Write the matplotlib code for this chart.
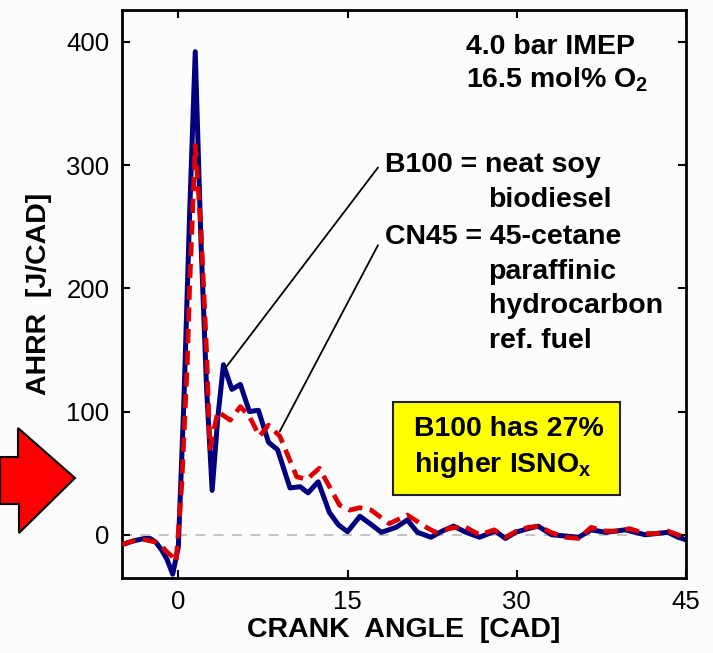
import matplotlib
matplotlib.use("Agg")
import matplotlib.pyplot as plt
from matplotlib.patches import Polygon, Rectangle

plt.rcParams['font.family'] = ['Liberation Sans', 'DejaVu Sans']
plt.rcParams['mathtext.fontset'] = 'custom'
plt.rcParams['mathtext.rm'] = 'Liberation Sans'
plt.rcParams['mathtext.bf'] = 'Liberation Sans:bold'

# B100 (neat soy biodiesel)
b100_cad = [-5, -4, -3, -2.5, -2, -1.5, -1, -0.5, 0, 0.5, 1.0, 1.5, 2.0, 2.5, 3.0,
            3.5, 4.0, 4.75, 5.5, 6.3, 7.1, 8.0, 8.8, 9.9, 10.8, 11.5, 12.4, 13.4,
            14.2, 15.0, 16.1, 17.0, 18.0, 19.3, 20.3, 21.2, 22.4, 23.4, 24.4, 25.5,
            26.7, 28.1, 29.0, 29.9, 31.0, 31.9, 33.1, 34.3, 35.5, 36.6, 37.9, 38.8,
            39.6, 40.5, 41.4, 42.4, 43.4, 44.3, 45]
b100_ahrr = [-8, -5, -3, -3, -6, -12, -20, -32, -10, 110, 260, 392, 240, 120, 36,
             95, 138, 118, 122, 100, 101, 75, 69, 38, 39, 34, 43, 18,
             8, 2.5, 15, 9, 2, 6, 12, 2, -2, 3, 7, 2,
             -2, 3, -3, 2, 5, 7, 0, -1, -2, 4, 2, 3,
             4, 2, 0, 1, 2, -2, -4]

# CN45 (45-cetane paraffinic hydrocarbon ref. fuel)
cn45_cad = [-5, -4, -3, -2, -1.5, -1, -0.5, -0.2, 0.3, 0.8, 1.0, 1.5, 2.0, 2.5, 2.8,
            3.5, 4.6, 5.5, 6.3, 7.2, 8.0, 9.0, 10.5, 11.4, 12.5, 14.3, 15.2, 16.1,
            17.1, 18.7, 20.3, 22.0, 22.8, 24.0, 25.3, 26.7, 28.0, 29.0, 30.0, 31.0,
            32.0, 33.0, 34.3, 35.5, 36.6, 37.9, 39.0, 40.0, 41.4, 42.4, 43.4, 44.3, 45]
cn45_ahrr = [-8, -5, -4, -6, -9, -14, -18, -22, 40, 140, 200, 316, 250, 150, 70,
             100, 93, 104, 96, 80, 89, 80, 47, 45, 54, 24, 20, 22,
             20, 9, 16, 6, 2, 5, 7, 0, 4, -2, 3, 6,
             7, 2, -2, -3, 6, 3, 3, 5, 1, 1, 3, 0, -3]

x_ticks = [0, 15, 30, 45]
y_ticks = [0, 100, 200, 300, 400]

fig = plt.figure(figsize=(7.13, 6.53), dpi=100)
fig.patch.set_facecolor('#fcfcfc')
ax = fig.add_axes([0.171, 0.115, 0.791, 0.870])
ax.set_facecolor('#fcfcfc')

ax.axhline(0, color='#bbbbbb', lw=1.2, ls=(0, (6, 5)), zorder=1)
ax.plot(cn45_cad, cn45_ahrr, color='#e00000', lw=3.4, ls=(0, (3, 1.6)), zorder=3)
ax.plot(b100_cad, b100_ahrr, color='#000080', lw=3.6, zorder=2)

ax.set_xlim(-5, 45)
ax.set_ylim(-35, 426)
ax.set_xticks(x_ticks)
ax.set_yticks(y_ticks)
ax.tick_params(direction='in', length=6, width=1.5, labelsize=18.5, top=True, right=True, pad=9)
for s in ax.spines.values():
    s.set_linewidth(2)

ax.set_xlabel('CRANK  ANGLE  [CAD]', fontsize=20.5, fontweight='bold', labelpad=2)
ax.set_ylabel('AHRR  [J/CAD]', fontsize=20.5, fontweight='bold', labelpad=10)

fs = 20.5
ax.text(25.5, 396, '4.0 bar IMEP', ha='left', va='center', fontsize=fs, fontweight='bold')
ax.text(25.5, 369, r'16.5 mol% O$_\mathbf{2}$', ha='left', va='center', fontsize=fs, fontweight='bold')

ax.text(18.3, 300, 'B100 = neat soy', ha='left', va='center', fontsize=fs, fontweight='bold')
ax.text(27.5, 272, 'biodiesel', ha='left', va='center', fontsize=fs, fontweight='bold')
ax.text(18.3, 242, 'CN45 = 45-cetane', ha='left', va='center', fontsize=fs, fontweight='bold')
ax.text(27.5, 213, 'paraffinic', ha='left', va='center', fontsize=fs, fontweight='bold')
ax.text(27.5, 186, 'hydrocarbon', ha='left', va='center', fontsize=fs, fontweight='bold')
ax.text(27.5, 157, 'ref. fuel', ha='left', va='center', fontsize=fs, fontweight='bold')

ax.annotate('', xy=(4.15, 135), xytext=(17.7, 298),
            arrowprops=dict(arrowstyle='-', color='black', lw=1.3, shrinkA=0, shrinkB=0))
ax.annotate('', xy=(9.0, 84), xytext=(17.7, 235),
            arrowprops=dict(arrowstyle='-', color='black', lw=1.3, shrinkA=0, shrinkB=0))

ax.add_patch(Rectangle((19.0, 32.5), 20.2, 75.4, facecolor='#ffff00', edgecolor='#222222',
                       lw=1.5, zorder=4))
ax.text(20.9, 86, 'B100 has 27%', ha='left', va='center', fontsize=fs, fontweight='bold', zorder=5)
ax.text(20.9, 57, r'higher ISNO$_\mathbf{x}$', ha='left', va='center', fontsize=fs,
        fontweight='bold', zorder=5)

# red block arrow on the left
W, H = 713.0, 653.0
pts = [(0, 457), (18, 457), (18, 428), (75, 478), (19, 533), (19, 504), (0, 504)]
arrow = Polygon([(px / W, 1 - py / H) for px, py in pts], closed=True,
                facecolor='#ff0000', edgecolor='black', lw=1.5, transform=fig.transFigure)
fig.patches.append(arrow)

fig.savefig('out.png', dpi=100, facecolor=fig.get_facecolor())
